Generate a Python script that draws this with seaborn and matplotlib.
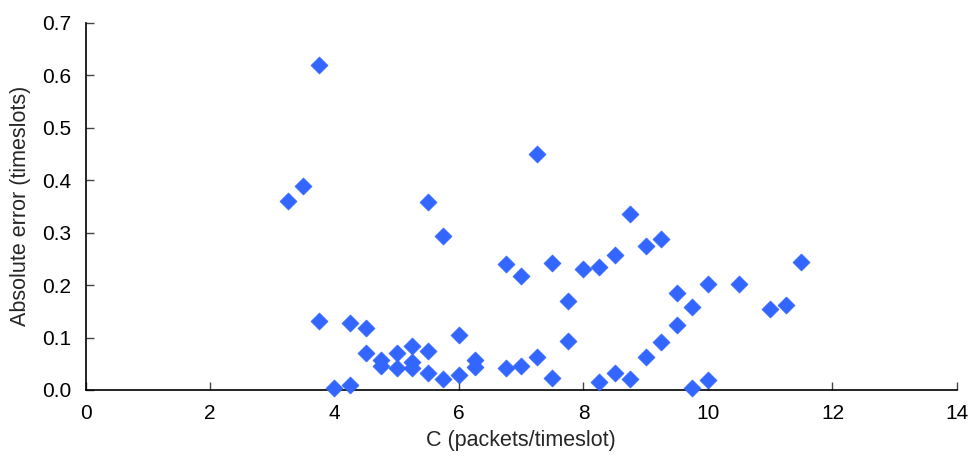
import matplotlib
matplotlib.use("Agg")
import matplotlib.pyplot as plt
import seaborn as sns
import pandas as pd

# Link capacity C (packets/timeslot) and measured absolute error (timeslots)
capacity = [
    3.25, 3.5, 3.75, 3.75, 4.0, 4.25, 4.25, 4.5, 4.5, 4.75, 4.75,
    5.0, 5.0, 5.25, 5.25, 5.25, 5.5, 5.5, 5.5, 5.75, 5.75, 6.0, 6.0,
    6.25, 6.25, 6.75, 6.75, 7.0, 7.0, 7.25, 7.25, 7.5, 7.5, 7.75, 7.75,
    8.0, 8.25, 8.25, 8.5, 8.5, 8.75, 8.75, 9.0, 9.0, 9.25, 9.25,
    9.5, 9.5, 9.75, 9.75, 10.0, 10.0, 10.5, 11.0, 11.25, 11.5,
]
abs_error = [
    0.360, 0.388, 0.620, 0.132, 0.004, 0.128, 0.009, 0.119, 0.071, 0.058, 0.046,
    0.071, 0.042, 0.084, 0.053, 0.042, 0.358, 0.075, 0.032, 0.293, 0.020, 0.105, 0.029,
    0.058, 0.043, 0.241, 0.042, 0.218, 0.046, 0.450, 0.063, 0.242, 0.023, 0.170, 0.094,
    0.231, 0.235, 0.015, 0.258, 0.033, 0.336, 0.020, 0.274, 0.063, 0.287, 0.091,
    0.185, 0.124, 0.159, 0.004, 0.202, 0.019, 0.202, 0.155, 0.162, 0.244,
]

x_ticks = [0, 2, 4, 6, 8, 10, 12, 14]
y_ticks = [0.0, 0.1, 0.2, 0.3, 0.4, 0.5, 0.6, 0.7]

df = pd.DataFrame({"C": capacity, "err": abs_error})

sns.set_style("ticks")
plt.rcParams["font.family"] = ["Liberation Sans", "DejaVu Sans"]

fig = plt.figure(figsize=(9.75, 4.58), dpi=100)
ax = fig.add_axes([0.0877, 0.1485, 0.8938, 0.802])

sns.scatterplot(data=df, x="C", y="err", marker="D", s=75, color="#3366FF",
                edgecolor="#3366FF", linewidth=0.5, ax=ax, legend=False, zorder=3,
                clip_on=False)

ax.set_xlim(0, 14)
ax.set_ylim(0, 0.7)
ax.set_xticks(x_ticks)
ax.set_xticklabels([str(t) for t in x_ticks])
ax.set_yticks(y_ticks)
ax.set_yticklabels([f"{t:.1f}" for t in y_ticks])
ax.tick_params(axis="both", direction="in", length=6, width=1, color="#444444",
               labelsize=15, labelcolor="black")
ax.tick_params(axis="x", pad=10)
ax.tick_params(axis="y", pad=10)

ax.set_xlabel("C (packets/timeslot)", fontsize=15.5, labelpad=5)
ax.set_ylabel("Absolute error (timeslots)", fontsize=15.5, labelpad=8)

for side in ("top", "right"):
    ax.spines[side].set_visible(False)
for side in ("left", "bottom"):
    ax.spines[side].set_color("black")
    ax.spines[side].set_linewidth(1.2)

fig.savefig("out.png", dpi=100, facecolor="white")
